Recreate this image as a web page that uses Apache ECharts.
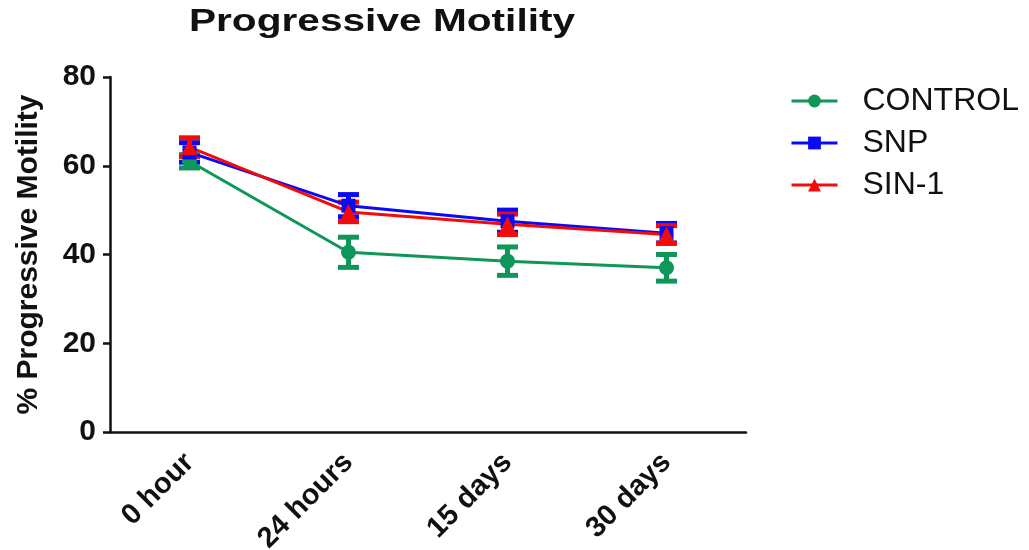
<!DOCTYPE html>
<html>
<head>
<meta charset="utf-8">
<script src="https://cdn.jsdelivr.net/npm/echarts@6/dist/echarts.min.js"></script>
<style>
  html, body { margin: 0; padding: 0; background: #ffffff; }
  #chart { width: 1029px; height: 550px; }
</style>
</head>
<body>
<div id="chart"></div>
<script>
// Time points
const categories = ['0 hour', '24 hours', '15 days', '30 days'];

// Mean % progressive motility and error (±) per group
const controlMean = [61.0, 40.5, 38.5, 37.0];
const controlErr  = [1.5, 3.4, 3.2, 3.0];
const snpMean     = [63.0, 51.0, 47.5, 44.8];
const snpErr      = [2.2, 2.5, 2.5, 2.2];
const sin1Mean    = [64.2, 49.6, 46.8, 44.5];
const sin1Err     = [2.1, 2.2, 2.3, 2.0];

// Y axis ticks
const yTicks = [0, 20, 40, 60, 80];

const COLORS = { control: '#0f9658', snp: '#0a0af5', sin1: '#f50a0a' };
const FONT = 'Liberation Sans, Arial, sans-serif';

function errData(mean, err) {
  return mean.map((m, i) => [i, m - err[i], m + err[i]]);
}

function errorSeries(name, mean, err, color) {
  return {
    name: name + ' error',
    type: 'custom',
    data: errData(mean, err),
    renderItem: function (params, api) {
      const lo = api.coord([api.value(0), api.value(1)]);
      const hi = api.coord([api.value(0), api.value(2)]);
      const cw = 10.5;
      const st = { stroke: color, lineWidth: 5 };
      return {
        type: 'group',
        children: [
          { type: 'line', shape: { x1: lo[0], y1: lo[1], x2: hi[0], y2: hi[1] }, style: st },
          { type: 'line', shape: { x1: hi[0] - cw, y1: hi[1], x2: hi[0] + cw, y2: hi[1] }, style: st },
          { type: 'line', shape: { x1: lo[0] - cw, y1: lo[1], x2: lo[0] + cw, y2: lo[1] }, style: st }
        ]
      };
    },
    silent: true
  };
}

function lineSeries(name, mean, color, symbol, size) {
  return {
    name: name,
    type: 'line',
    data: mean,
    symbol: symbol,
    symbolSize: size,
    lineStyle: { color: color, width: 3 },
    itemStyle: { color: color },
    animation: false
  };
}

const chart = echarts.init(document.getElementById('chart'), null, { renderer: 'canvas' });

chart.setOption({
  animation: false,
  backgroundColor: '#ffffff',
  graphic: [{
    type: 'text',
    x: 382,
    y: 22,
    scaleX: 1.27,
    style: {
      text: 'Progressive Motility',
      x: 0,
      y: 0,
      textAlign: 'center',
      textVerticalAlign: 'middle',
      font: 'bold 32px ' + FONT,
      fill: '#111111'
    }
  }],
  legend: {
    orient: 'vertical',
    left: 785,
    top: 80,
    itemWidth: 46,
    itemHeight: 16,
    itemGap: 10,
    data: ['CONTROL', 'SNP', 'SIN-1'],
    lineStyle: { width: 3 },
    textStyle: {
      fontFamily: FONT,
      fontSize: 32,
      color: '#111111',
      padding: [0, 0, 0, 20]
    }
  },
  grid: { left: 110, right: 283, top: 77, bottom: 118, outerBoundsMode: 'none' },
  xAxis: {
    type: 'category',
    data: categories,
    boundaryGap: true,
    axisLine: { lineStyle: { color: '#111111', width: 2.5 } },
    axisTick: { alignWithLabel: true, length: 7, lineStyle: { color: '#111111', width: 2.5 } },
    axisLabel: {
      rotate: 45,
      margin: 26,
      interval: 0,
      fontFamily: FONT,
      fontWeight: 'bold',
      fontSize: 29,
      color: '#111111'
    }
  },
  yAxis: {
    type: 'value',
    min: yTicks[0],
    max: yTicks[yTicks.length - 1],
    interval: yTicks[1] - yTicks[0],
    name: '% Progressive Motility',
    nameLocation: 'middle',
    nameGap: 66,
    nameTextStyle: { fontFamily: FONT, fontWeight: 'bold', fontSize: 30, color: '#111111' },
    splitLine: { show: false },
    axisLine: { show: true, lineStyle: { color: '#111111', width: 2.5 } },
    axisTick: { show: true, length: 7, lineStyle: { color: '#111111', width: 2.5 } },
    axisLabel: {
      margin: 14,
      fontFamily: FONT,
      fontWeight: 'bold',
      fontSize: 30,
      color: '#111111'
    }
  },
  series: [
    errorSeries('CONTROL', controlMean, controlErr, COLORS.control),
    lineSeries('CONTROL', controlMean, COLORS.control, 'circle', 15),
    errorSeries('SNP', snpMean, snpErr, COLORS.snp),
    lineSeries('SNP', snpMean, COLORS.snp, 'rect', 14),
    errorSeries('SIN-1', sin1Mean, sin1Err, COLORS.sin1),
    lineSeries('SIN-1', sin1Mean, COLORS.sin1, 'triangle', 16)
  ]
});
</script>
</body>
</html>
